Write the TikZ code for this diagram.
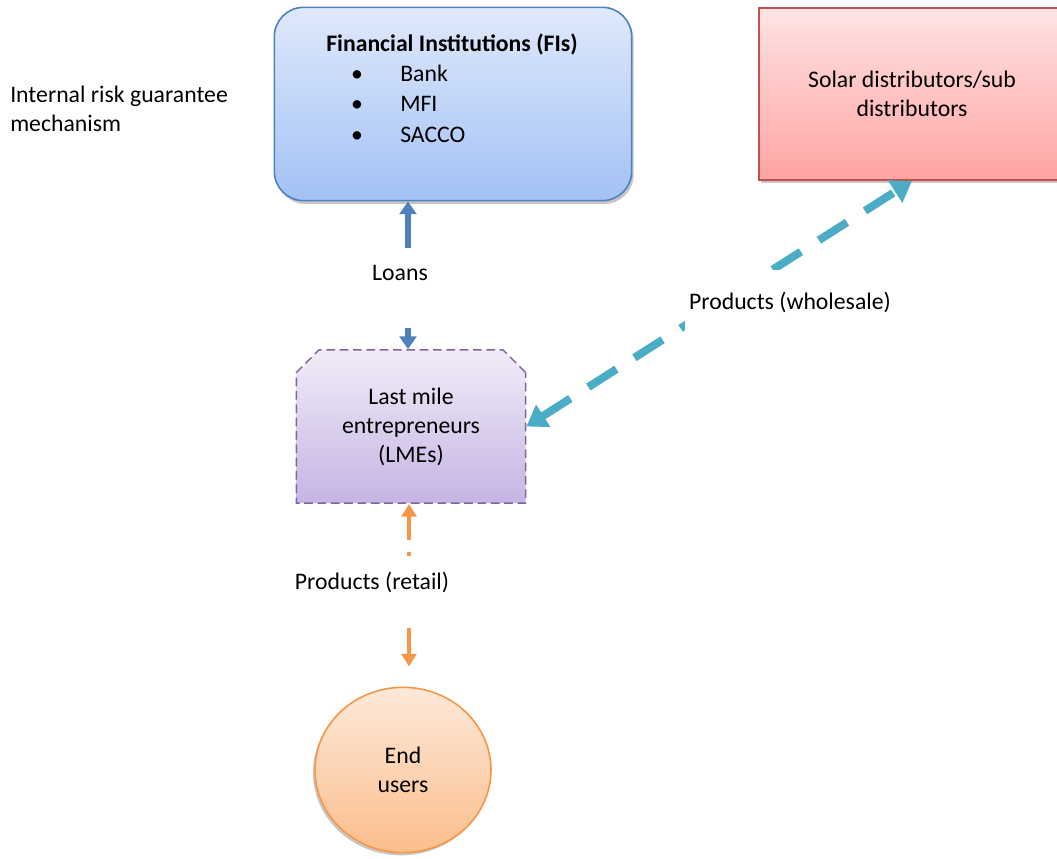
\documentclass[tikz,border=0pt]{standalone}
\usepackage{fontspec}
\setmainfont{Carlito}
\usepackage{tikz}
\usetikzlibrary{arrows.meta, shapes.geometric, shapes.misc, shadows}

\definecolor{fiedge}{HTML}{4F81BD}
\definecolor{fitop}{HTML}{DFE9FB}
\definecolor{fibot}{HTML}{A3C1F5}
\definecolor{solaredge}{HTML}{C0504D}
\definecolor{solartop}{HTML}{FFE4E4}
\definecolor{solarbot}{HTML}{FFA3A3}
\definecolor{lmeedge}{HTML}{8064A2}
\definecolor{lmetop}{HTML}{F1ECF8}
\definecolor{lmebot}{HTML}{C6B4E3}
\definecolor{usersedge}{HTML}{F79646}
\definecolor{userstop}{HTML}{FDE9DA}
\definecolor{usersbot}{HTML}{FBBE8C}
\definecolor{wholesaleline}{HTML}{4BACC6}

\begin{document}
\begin{tikzpicture}[
    x=0.75pt, y=-0.75pt,
    font=\fontsize{17.8pt}{21.7pt}\selectfont,
    fibox/.style={rectangle, draw=fiedge, line width=1.2pt, rounded corners=22pt,
                  top color=fitop, bottom color=fibot,
                  minimum width=268pt, minimum height=145pt,
                  drop shadow={shadow xshift=1.5pt, shadow yshift=-2.5pt, opacity=0.45}},
    solarbox/.style={rectangle, draw=solaredge, line width=1.4pt, align=center,
                     top color=solartop, bottom color=solarbot,
                     minimum width=229pt, minimum height=129pt,
                     drop shadow={shadow xshift=1.5pt, shadow yshift=-2.5pt, opacity=0.45}},
    lmebox/.style={chamfered rectangle, chamfered rectangle corners={north west, north east},
                   chamfered rectangle xsep=8.5pt, chamfered rectangle ysep=8.5pt,
                   draw=lmeedge, line width=1.1pt, dash pattern=on 6.5pt off 3.5pt,
                   top color=lmetop, bottom color=lmebot, align=center,
                   minimum width=172pt, minimum height=115pt},
    usersnode/.style={ellipse, draw=usersedge, line width=1.2pt, align=center,
                      top color=userstop, bottom color=usersbot,
                      minimum width=132pt, minimum height=124pt, inner sep=0pt,
                      drop shadow={shadow xshift=-1.5pt, shadow yshift=-2pt, opacity=0.45}},
    loanarr/.style={-{Triangle[width=12.5pt,length=9.5pt]}, line width=4.4pt, draw=fiedge},
    retailarr/.style={-{Triangle[width=11pt,length=9.5pt]}, line width=3.6pt, draw=usersedge},
    wholesalearr/.style={{Triangle[width=19pt,length=15pt]}-{Triangle[width=19pt,length=15pt]},
                         line width=6pt, draw=wholesaleline, dash pattern=on 25pt off 16pt},
    flowlabel/.style={inner sep=0pt},
]

\path[use as bounding box] (0,0) rectangle (1057,859);
\clip (0,0) rectangle (1057,859);

\node[fibox] (fi) at (453,104) {};
\node[flowlabel, anchor=base] (fititle) at (452,52) {\bfseries Financial Institutions (FIs)};
\node[flowlabel, anchor=base] (fidot1) at (357,82)  {\textbullet};
\node[flowlabel, anchor=base] (fidot2) at (357,112) {\textbullet};
\node[flowlabel, anchor=base] (fidot3) at (357,143) {\textbullet};
\node[flowlabel, anchor=base west] (bank)  at (400,82)  {Bank};
\node[flowlabel, anchor=base west] (mfi)   at (400,112) {MFI};
\node[flowlabel, anchor=base west] (sacco) at (400,143) {SACCO};

\node[flowlabel, anchor=west, align=left] (guarantee) at (10,109) {Internal risk guarantee\\mechanism};

\node[solarbox] (solar) at (912,94) {Solar distributors/sub\\distributors};

\node[lmebox] (lme) at (411,426.5) {Last mile\\entrepreneurs\\(LMEs)};

\node[usersnode] (users) at (403,770) {End\\users};

\node[flowlabel, anchor=base] (loans) at (400,281) {Loans};
\coordinate (loanstop) at (408,248);
\coordinate (loansbot) at (408,328);
\draw[loanarr] (loanstop) -- (loanstop |- fi.south);
\draw[loanarr] (loansbot) -- (loansbot |- lme.north);

\node[flowlabel, anchor=base] (retail) at (372,589) {Products (retail)};
\coordinate (retailtop) at (409,556);
\coordinate (retailbot) at (409,628);
\draw[retailarr, dash pattern=on 3pt off 9pt on 30pt off 9pt] (retailtop) -- (retailtop |- lme.south);
\draw[retailarr, shorten >=15pt] (retailbot) -- (retailbot |- users.north);

\draw[wholesalearr] (lme.east) -- (solar.south);
\node[fill=white, inner xsep=3pt, inner ysep=16pt] (wholesale) at (790,302) {Products (wholesale)};

\end{tikzpicture}
\end{document}
